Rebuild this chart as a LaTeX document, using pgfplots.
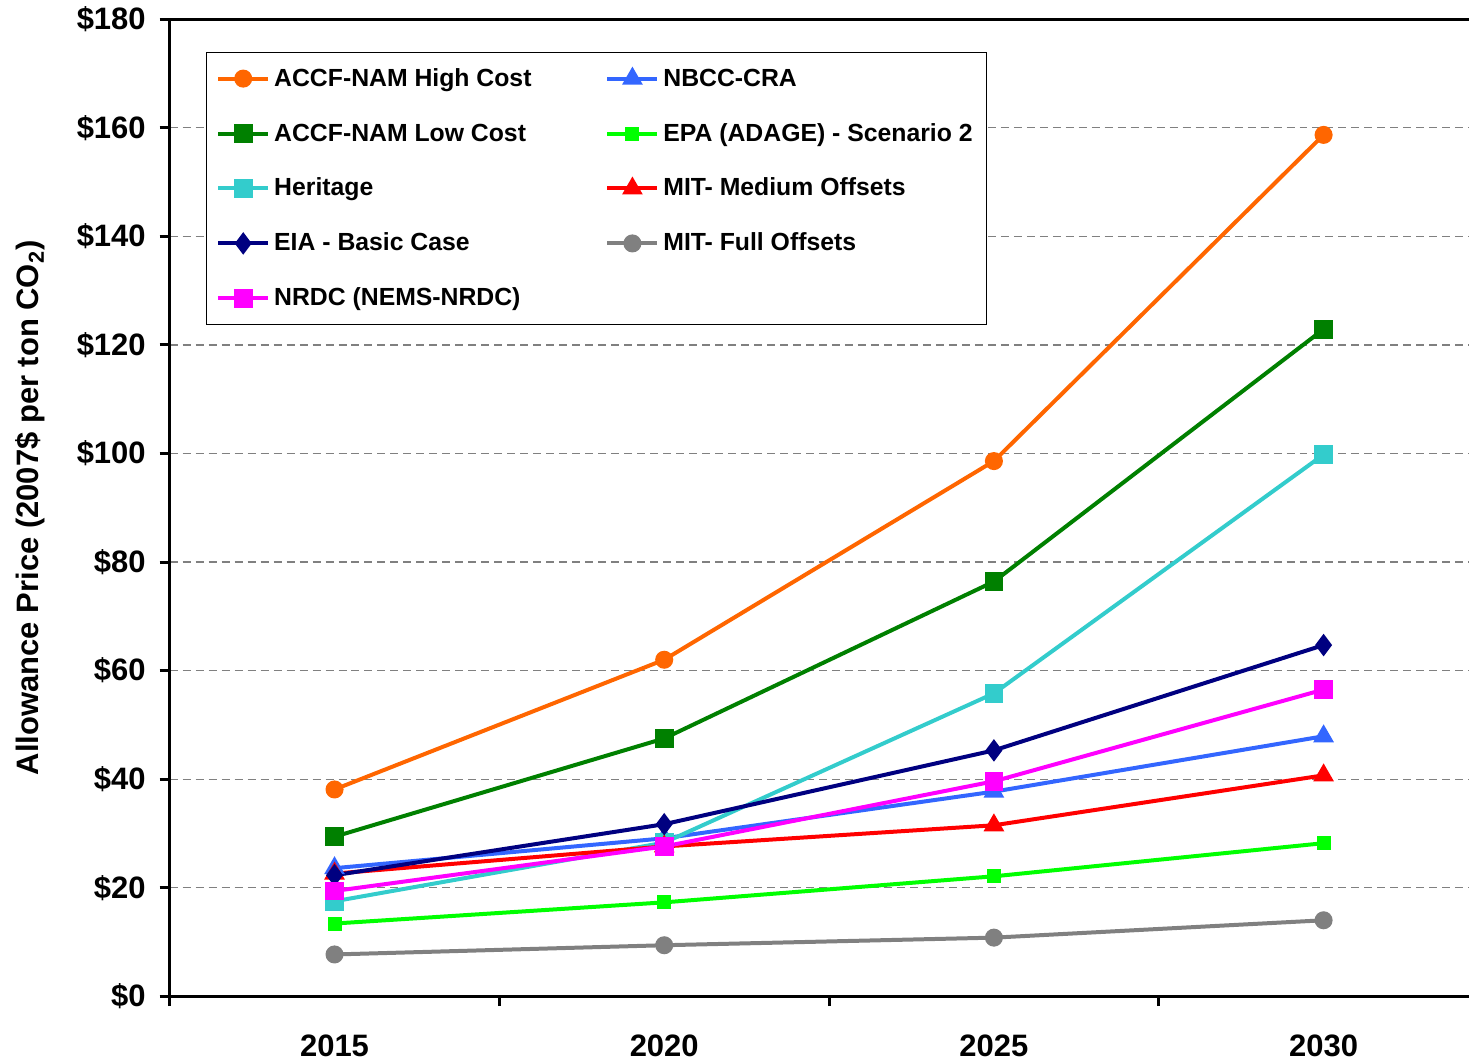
\documentclass[border=0pt]{standalone}
\usepackage{pgfplots}
\pgfplotsset{compat=1.18}
\usepackage{fontspec}
\setmainfont{Liberation Sans}

\definecolor{cHigh}{HTML}{FF6600}
\definecolor{cLow}{HTML}{008000}
\definecolor{cHer}{HTML}{33CCCC}
\definecolor{cEIA}{HTML}{000080}
\definecolor{cNRDC}{HTML}{FF00FF}
\definecolor{cNBCC}{HTML}{3366FF}
\definecolor{cEPA}{HTML}{00FF00}
\definecolor{cMITm}{HTML}{FF0000}
\definecolor{cMITf}{HTML}{808080}

\begin{document}
\begin{tikzpicture}
\begin{axis}[
  scale only axis,
  width=650.5pt, height=489pt,
  xmin=-0.5, xmax=3.442,
  ymin=0, ymax=180,
  axis x line=box, axis y line=left,
  axis line style={-, line width=1.7pt},
  y axis line style={-},
  xtick pos=bottom, ytick pos=left,
  tick align=outside,
  xtick={0,1,2,3},
  xticklabels={2015,2020,2025,2030},
  major x tick style={draw=none},
  minor xtick={-0.5,0.5,1.5,2.5},
  minor tick length=5pt,
  minor x tick style={line width=1.5pt, black},
  ytick={0,20,...,180},
  major tick length=5pt,
  y tick style={line width=1.5pt, black},
  ymajorgrids,
  grid style={dash pattern=on 4pt off 2.5pt, line width=0.6pt, color=black!50},
  /pgf/number format/assume math mode=true,
  yticklabel={\$\pgfmathprintnumber{\tick}},
  ticklabel style={font=\fontsize{15.5}{18}\selectfont\bfseries},
  xticklabel style={inner ysep=2pt, yshift=-12pt},
  yticklabel style={xshift=-3.5pt},
  ylabel={Allowance Price (2007\$ per ton CO\textsubscript{2})},
  ylabel style={font=\fontsize{15.5}{18}\selectfont\bfseries, yshift=9pt},
  every axis plot/.append style={line width=2pt},
  legend columns=2,
  legend style={at={(0.0277,0.967)}, anchor=north west, draw=black, line width=0.6pt,
    font=\fontsize{12.4}{14}\selectfont\bfseries, inner xsep=5pt, inner ysep=6pt,
    row sep=13pt, column sep=0pt,
    /tikz/every even column/.append style={column sep=35pt},
    cells={anchor=west, text height=9pt, text depth=3pt, inner sep=1.25pt}},
  legend image code/.code={
    \draw[mark repeat=2, mark phase=2, #1] plot coordinates {(0pt,0pt)(12.5pt,0pt)(25pt,0pt)};
  },
]
\addplot[cHigh, mark=*, mark size=3.5pt] coordinates {(0,38.1) (1,62.0) (2,98.6) (3,158.7)};
\addlegendentry{ACCF-NAM High Cost}
\addplot[cNBCC, mark=triangle*, mark size=4pt] coordinates {(0,23.6) (1,29.1) (2,37.7) (3,47.9)};
\addlegendentry{NBCC-CRA}
\addplot[cLow, mark=square*, mark size=3.7pt] coordinates {(0,29.4) (1,47.5) (2,76.4) (3,122.9)};
\addlegendentry{ACCF-NAM Low Cost}
\addplot[cEPA, mark=square*, mark size=2.5pt] coordinates {(0,13.4) (1,17.3) (2,22.1) (3,28.2)};
\addlegendentry{EPA (ADAGE) - Scenario 2}
\addplot[cHer, mark=square*, mark size=3.7pt] coordinates {(0,17.5) (1,28.3) (2,55.8) (3,99.8)};
\addlegendentry{Heritage}
\addplot[cMITm, mark=triangle*, mark size=4pt] coordinates {(0,22.6) (1,27.6) (2,31.5) (3,40.7)};
\addlegendentry{MIT- Medium Offsets}
\addplot[cEIA, mark=diamond*, mark size=4pt] coordinates {(0,22.3) (1,31.7) (2,45.3) (3,64.7)};
\addlegendentry{EIA - Basic Case}
\addplot[cMITf, mark=*, mark size=3.5pt] coordinates {(0,7.7) (1,9.4) (2,10.8) (3,14.0)};
\addlegendentry{MIT- Full Offsets}
\addplot[cNRDC, mark=square*, mark size=3.7pt] coordinates {(0,19.4) (1,27.6) (2,39.6) (3,56.5)};
\addlegendentry{NRDC (NEMS-NRDC)}
\end{axis}
\path ([xshift=-4.5pt]current bounding box.west);
\end{tikzpicture}
\end{document}
